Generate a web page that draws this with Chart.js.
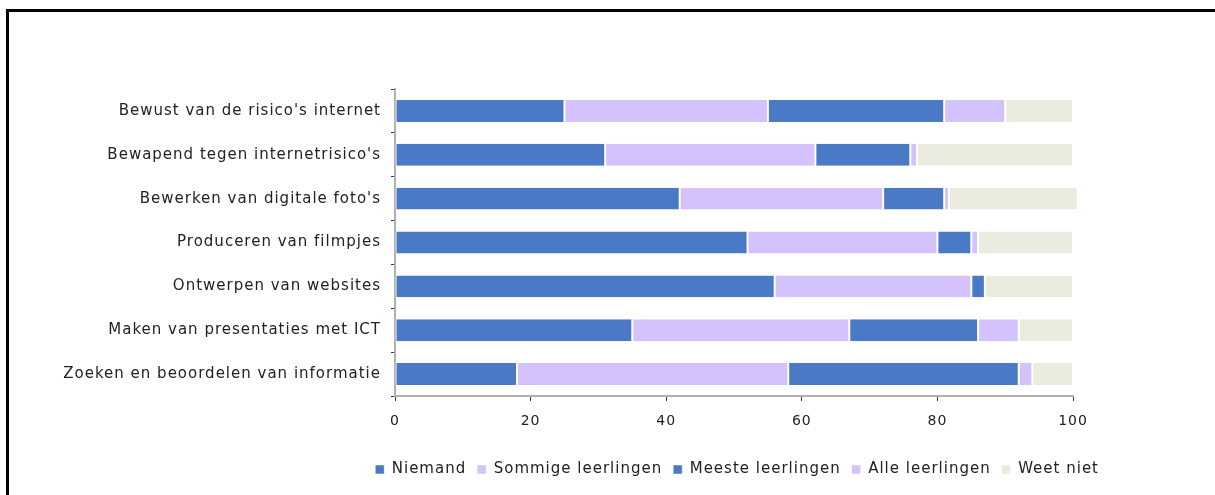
<!DOCTYPE html>
<html>
<head>
<meta charset="utf-8">
<script src="https://cdn.jsdelivr.net/npm/chart.js@4"></script>
<style>
  html, body { margin: 0; padding: 0; background: #fff; overflow: hidden; }
  #wrap { position: relative; width: 1215px; height: 495px; }
  #frame {
    position: absolute; left: 6px; top: 9px; width: 1300px; height: 600px;
    border-top: 3px solid #000; border-left: 3px solid #000;
  }
  canvas { position: absolute; left: 0; top: 0; }
</style>
</head>
<body>
<div id="wrap">
  <div id="frame"></div>
  <canvas id="skillsChart" width="1215" height="495"></canvas>
</div>
<script>
// Percentages per skill (top row first)
const categories = [
  "Bewust van de risico's internet",
  "Bewapend tegen internetrisico's",
  "Bewerken van digitale foto's",
  "Produceren van filmpjes",
  "Ontwerpen van websites",
  "Maken van presentaties met ICT",
  "Zoeken en beoordelen van informatie"
];
const niemand  = [25, 31, 42, 52, 56, 35, 18];
const sommige  = [30, 31, 30, 28, 29, 32, 40];
const meeste   = [26, 14, 9, 5, 2, 19, 34];
const alle     = [9, 1, 0.7, 1, 0, 6, 2];
const weetNiet = [10, 23, 19, 14, 13, 8, 6];
const xTicks = [0, 20, 40, 60, 80, 100];

const BLUE = '#4a7ac6';
const LILAC = '#d4c2fd';
const BEIGE = '#ebecdf';
const FONT = 'DejaVu Sans';

function series(label, data, color) {
  return {
    label: label,
    data: data,
    backgroundColor: color,
    borderColor: '#ffffff',
    borderWidth: { left: 1, right: 1, top: 0, bottom: 0 },
    borderSkipped: false,
    barPercentage: 0.5,
    categoryPercentage: 1.0,
    clip: false
  };
}

// slightly looser letters for all chart text (canvas resets drop it, so set it each pass)
const spacing = {
  id: 'spacing',
  beforeUpdate: function (chart) { chart.ctx.letterSpacing = '1px'; },
  beforeDraw: function (chart) { chart.ctx.letterSpacing = '1px'; }
};

new Chart(document.getElementById('skillsChart').getContext('2d'), {
  type: 'bar',
  plugins: [spacing],
  data: {
    labels: categories,
    datasets: [
      series('Niemand', niemand, BLUE),
      series('Sommige leerlingen', sommige, LILAC),
      series('Meeste leerlingen', meeste, BLUE),
      series('Alle leerlingen', alle, LILAC),
      series('Weet niet', weetNiet, BEIGE)
    ]
  },
  options: {
    indexAxis: 'y',
    responsive: false,
    animation: false,
    layout: { padding: { left: 20, right: 105, top: 89, bottom: 8 } },
    plugins: {
      tooltip: { enabled: false },
      legend: {
        position: 'bottom',
        align: 'end',
        labels: {
          boxWidth: 9,
          boxHeight: 9,
          padding: 11,
          color: '#222',
          font: { family: FONT, size: 15 }
        }
      }
    },
    scales: {
      x: {
        stacked: true,
        min: 0,
        max: 100,
        afterBuildTicks: function (scale) {
          scale.ticks = xTicks.map(function (v) { return { value: v }; });
        },
        afterFit: function (scale) { scale.height = 55; },
        border: { color: '#b0b0b0', width: 2 },
        grid: { drawOnChartArea: false, tickLength: 5, color: '#333' },
        ticks: { color: '#222', padding: 12, font: { family: FONT, size: 14 } }
      },
      y: {
        stacked: true,
        afterFit: function (scale) { scale.width = 375; },
        border: { color: '#b0b0b0', width: 2 },
        grid: { drawOnChartArea: false, tickLength: 4, color: '#333' },
        ticks: { color: '#222', padding: 10, font: { family: FONT, size: 15 } }
      },
      // empty right-hand axis that only reserves the space right of the bars
      yRight: {
        position: 'right',
        display: true,
        afterFit: function (scale) { scale.width = 37; },
        grid: { display: false },
        border: { display: false },
        ticks: { display: false }
      }
    }
  }
});
</script>
</body>
</html>
